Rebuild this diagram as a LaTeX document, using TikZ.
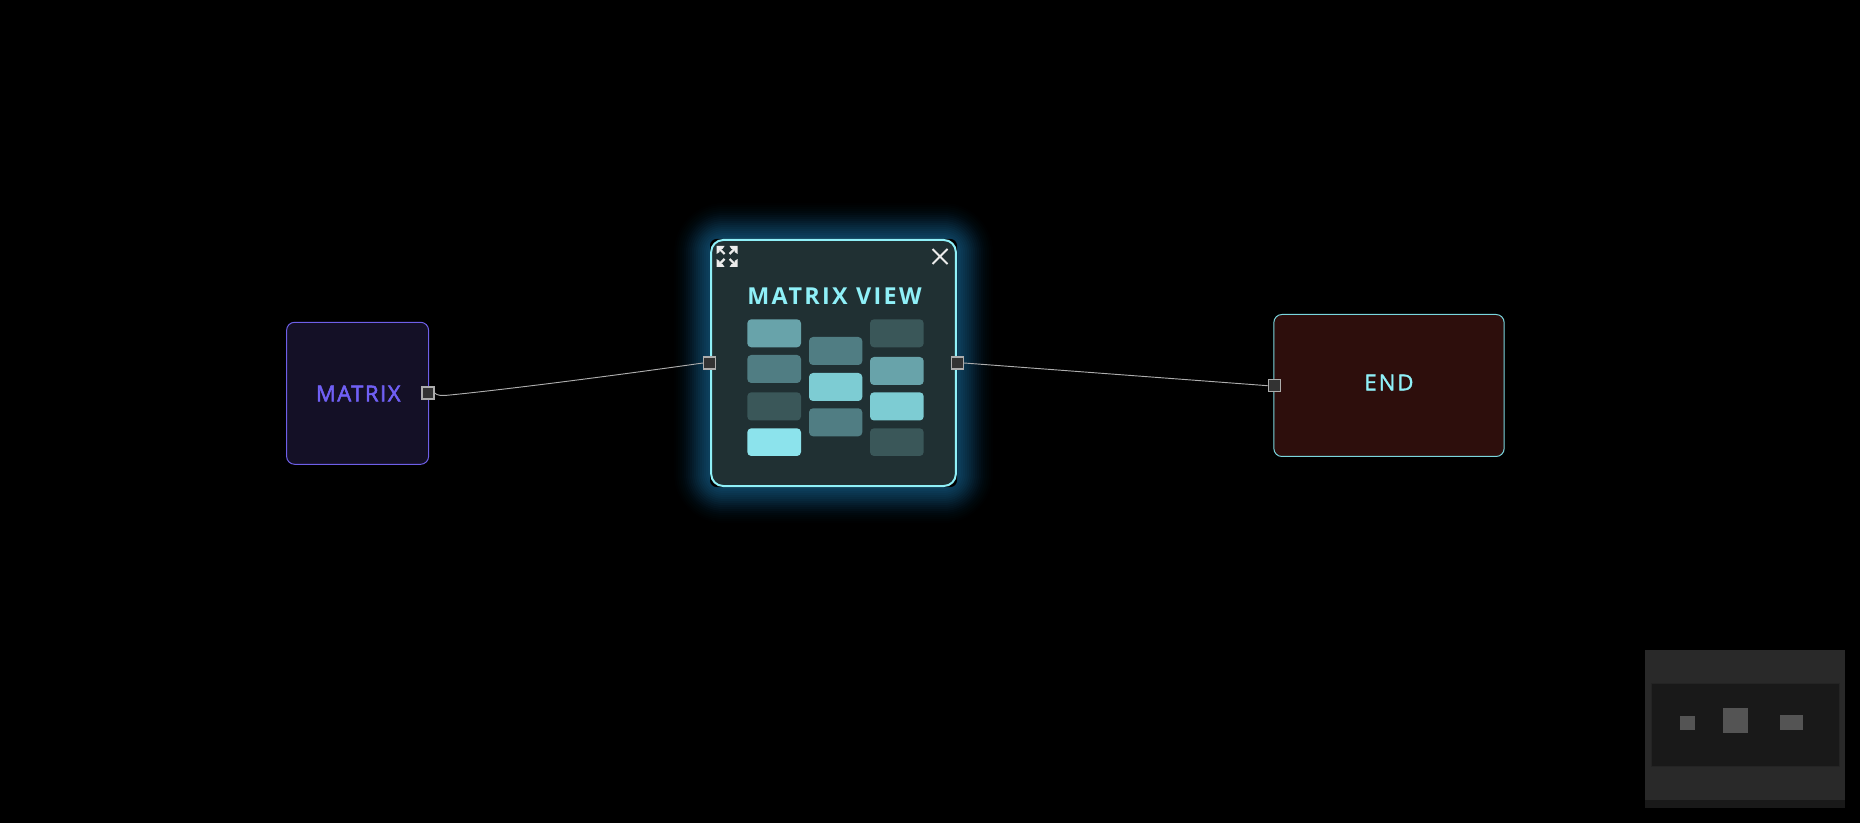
\documentclass[tikz,border=0pt]{standalone}
\usepackage{fontspec}
\setmainfont{Open Sans}
\newfontfamily\lblfont[LetterSpace=7,FakeBold=2.4]{Open Sans}
\newfontfamily\endfont[LetterSpace=9.5,FakeBold=1.4]{Open Sans}
\newfontfamily\ttlfont[LetterSpace=10]{Open Sans Bold}
\definecolor{cyanB}{HTML}{8FF0F8}
\definecolor{cellA}{HTML}{68A3AA}
\definecolor{cellB}{HTML}{507D83}
\definecolor{cellC}{HTML}{3A5759}
\definecolor{cellD}{HTML}{8CE3EC}
\definecolor{cellE}{HTML}{7DCCD3}
\definecolor{glowC}{HTML}{2A86C0}
\tikzset{
 x=0.75pt,y=-0.75pt,
 cell/.style={rounded corners=3pt,fill=#1},
 port/.style={draw=white!68!black,fill=black!80,line width=1.1pt,minimum size=9pt,inner sep=0pt,rectangle},
 wire/.style={draw=white!68!black,line width=0.7pt},
 icon/.style={draw=white!92!black,line width=1.3pt},
 mini/.style={fill=black!67!white},
}
\begin{document}
\begin{tikzpicture}
\useasboundingbox (0,0) rectangle (1860,823);
\fill[black] (0,0) rectangle (1860,823);
% glow
\foreach \g/\o in {36/.012,34/.015,32/.018,30/.02,28/.025,26/.03,24/.035,22/.04,20/.045,18/.05,16/.05,14/.055,12/.055,10/.055,8/.055,6/.055,4/.055,2/.055}{
 \fill[glowC,opacity=\o,rounded corners=10pt+\g*0.75pt] (710-\g,239-\g) rectangle (957+\g,487+\g);
}
\fill[black,rounded corners=5pt] (710,239) rectangle (957,487);
% main nodes
\node[draw={rgb,255:red,110;green,95;blue,232},fill={rgb,255:red,20;green,16;blue,38},line width=0.75pt,rounded corners=6pt,minimum width=106.5pt,minimum height=106.5pt,inner sep=0pt] (matrix) at (357.6,393.3) {};
\node[font=\lblfont\fontsize{16.5pt}{20pt}\selectfont,text={rgb,255:red,112;green,96;blue,245}] (matrixlbl) at (358.2,393.5) {MATRIX};
\node[draw={rgb,255:red,122;green,214;blue,222},fill={rgb,255:red,45;green,14;blue,12},line width=0.75pt,rounded corners=6pt,minimum width=172.7pt,minimum height=106.5pt,inner sep=0pt] (endn) at (1389,385.5) {};
\node[font=\endfont\fontsize{16.5pt}{20pt}\selectfont,text=cyanB] (endlbl) at (1389,382.5) {END};
\node[draw=cyanB,fill={rgb,255:red,32;green,48;blue,51},line width=1.5pt,rounded corners=9pt,minimum width=183.5pt,minimum height=184.5pt,inner sep=0pt] (view) at (833.5,363) {};
\node[font=\ttlfont\fontsize{17.5pt}{20pt}\selectfont,text=cyanB] (viewlbl) at (834.5,296) {MATRIX VIEW};
% cells
\fill[cell=cellA] (747.3,319.3) rectangle (801,347.3);
\fill[cell=cellB] (747.3,355) rectangle (801,383);
\fill[cell=cellC] (747.3,392.3) rectangle (801,420.5);
\fill[cell=cellD] (747.3,428.3) rectangle (801,456);
\fill[cell=cellB] (809,337) rectangle (862.3,365);
\fill[cell=cellE] (809,373) rectangle (862.3,401);
\fill[cell=cellB] (809,408.3) rectangle (862.3,436.3);
\fill[cell=cellC] (870,319.3) rectangle (923.7,347.3);
\fill[cell=cellA] (870,357) rectangle (923.7,385);
\fill[cell=cellE] (870,392.3) rectangle (923.7,420.5);
\fill[cell=cellC] (870,428.3) rectangle (923.7,456);
% icons
\foreach \sx/\sy in {1/1,-1/1,1/-1,-1/-1}{
 \draw[icon,line width=1.6pt] (727+2.5*\sx,256.5+2.5*\sy) -- (727+9*\sx,256.5+9*\sy);
 \fill[white!92!black] (727+10.5*\sx,256.5+10.5*\sy) -- (727+2.5*\sx,256.5+10.5*\sy) -- (727+4.5*\sx,256.5+7.5*\sy) -- (727+7.5*\sx,256.5+7.5*\sy) -- (727+7.5*\sx,256.5+4.5*\sy) -- (727+10.5*\sx,256.5+2.5*\sy) -- cycle;
}
\draw[icon,line width=1.5pt] (932.5,249) -- (947.5,264) (947.5,249) -- (932.5,264);
% ports
\node[port] (pm) at (428,393) {};
\node[port] (pl) at (709.7,363) {};
\node[port] (pr) at (957.3,363) {};
\node[port] (pe) at (1274.3,385.7) {};
\draw[wire] (pm.east) .. controls (437,395.5) and (441,396) .. (450,395) .. controls (520,388) and (640,372) .. (pl.west);
\draw[wire] (pr.east) -- (pe.west);
% minimap
\fill[black!84] (1645,650) rectangle (1845,800);
\fill[black!90] (1645,800) rectangle (1845,807.7);
\fill[black!90,draw=black!86,line width=0.75pt] (1651,683) rectangle (1839,766.5);
\fill[mini] (1680,716) rectangle (1695,730);
\fill[mini] (1723,708) rectangle (1748,733);
\fill[mini] (1780,715) rectangle (1803,730);
\end{tikzpicture}
\end{document}
